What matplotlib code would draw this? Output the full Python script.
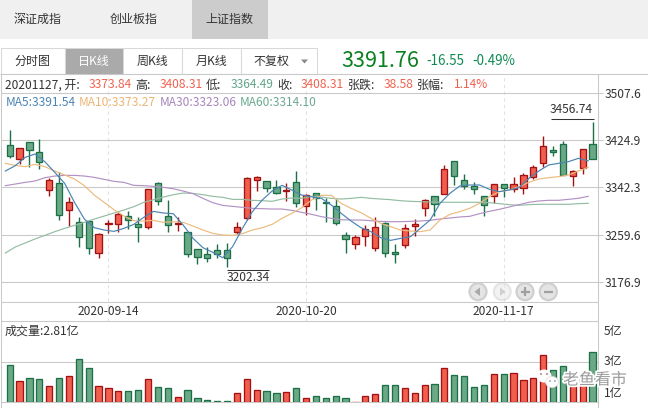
import matplotlib
matplotlib.use('Agg')
import matplotlib.pyplot as plt
import matplotlib.patheffects as pe
from matplotlib.patches import Rectangle, Circle, Ellipse, Polygon
import numpy as np

plt.rcParams['font.family'] = ['Noto Sans CJK SC', 'DejaVu Sans']

# ---- data ----
opens = [3416.1, 3391.5, 3421.3, 3403.8, 3337.2, 3349.5, 3302.2, 3281.2, 3282.9, 3226.8,
         3277.6, 3277.6, 3292.8, 3277.6, 3272.4, 3349.5, 3291.7, 3278.8, 3263.6, 3233.8,
         3225.1, 3232.1, 3232.1, 3263.6, 3288.2, 3354.7, 3353.0, 3342.5, 3335.5, 3351.2,
         3309.2, 3332.0, 3316.2, 3309.2, 3258.4, 3242.6, 3256.6, 3235.6, 3279.4, 3228.6,
         3240.9, 3274.1, 3305.7, 3326.8, 3330.3, 3388.1, 3354.8, 3344.3, 3326.8, 3326.8,
         3347.8, 3339.0, 3340.8, 3360.0, 3384.6, 3407.4, 3417.9, 3361.8, 3375.8, 3417.9]
closes = [3396.8, 3410.8, 3407.3, 3386.3, 3354.7, 3293.4, 3316.2, 3254.9, 3235.6, 3260.1,
          3280.0, 3295.2, 3284.7, 3272.4, 3339.0, 3318.0, 3275.9, 3280.6, 3225.1, 3219.8,
          3218.1, 3225.1, 3218.1, 3272.4, 3358.2, 3360.0, 3340.7, 3332.0, 3337.2, 3314.4,
          3328.5, 3323.2, 3314.4, 3279.4, 3251.4, 3254.9, 3268.9, 3272.4, 3226.8, 3225.1,
          3270.6, 3277.6, 3319.7, 3312.8, 3374.1, 3361.8, 3344.3, 3339.0, 3311.0, 3347.8,
          3340.8, 3347.8, 3363.6, 3377.6, 3414.4, 3403.9, 3363.6, 3370.6, 3409.1, 3391.76]
highs = [3442.9, 3410.8, 3421.3, 3427.2, 3358.2, 3368.8, 3325.0, 3289.9, 3284.7, 3261.9,
         3284.7, 3299.8, 3301.6, 3289.9, 3339.0, 3351.2, 3319.7, 3289.9, 3263.6, 3233.8,
         3237.4, 3242.6, 3244.4, 3281.2, 3360.0, 3361.7, 3353.0, 3354.7, 3349.5, 3370.5,
         3330.2, 3332.0, 3323.2, 3323.2, 3264.8, 3258.4, 3275.9, 3289.9, 3281.2, 3242.6,
         3277.6, 3286.4, 3321.4, 3326.8, 3381.1, 3388.1, 3365.3, 3351.3, 3326.8, 3347.8,
         3347.8, 3360.0, 3367.1, 3381.1, 3431.9, 3414.4, 3423.1, 3372.3, 3409.1, 3456.74]
lows = [3394.4, 3382.8, 3377.5, 3374.0, 3327.9, 3285.8, 3275.3, 3238.5, 3226.3, 3219.2,
        3261.9, 3263.6, 3270.1, 3247.3, 3268.9, 3312.1, 3264.8, 3265.4, 3221.0, 3207.6,
        3211.1, 3219.2, 3202.34, 3260.1, 3285.2, 3335.5, 3333.7, 3330.2, 3319.1, 3307.4,
        3293.4, 3303.3, 3281.2, 3275.9, 3226.8, 3235.0, 3239.1, 3230.4, 3219.8, 3209.3,
        3236.8, 3256.6, 3291.7, 3291.7, 3330.3, 3346.0, 3339.0, 3330.3, 3291.7, 3314.5,
        3325.0, 3333.8, 3330.3, 3356.5, 3377.6, 3396.8, 3363.6, 3344.3, 3365.3, 3391.6]
ma5 = [3371.1, 3380.4, 3395.0, 3400.9, 3387.4, 3368.8, 3349.5, 3316.2, 3287.0, 3271.8,
       3267.7, 3265.4, 3270.6, 3277.6, 3289.9, 3300.4, 3297.5, 3296.3, 3276.5, 3253.1,
       3236.8, 3228.6, 3219.2, 3238.5, 3270.6, 3299.8, 3320.3, 3336.0, 3346.0, 3337.8,
       3329.0, 3326.1, 3323.2, 3311.5, 3296.9, 3283.5, 3271.8, 3264.8, 3254.3, 3249.6,
       3253.1, 3256.0, 3270.6, 3285.3, 3314.5, 3332.0, 3344.9, 3346.6, 3346.6, 3339.0,
       3335.0, 3337.9, 3342.0, 3358.3, 3371.2, 3381.7, 3384.6, 3387.5, 3393.3, 3389.0]
ma10 = [3384.5, 3381.0, 3378.7, 3382.8, 3378.7, 3371.1, 3364.1, 3357.1, 3345.4, 3329.0,
        3316.2, 3303.3, 3292.2, 3284.1, 3283.5, 3284.7, 3281.2, 3282.3, 3281.2, 3274.7,
        3267.7, 3261.9, 3259.0, 3258.4, 3261.3, 3267.7, 3271.8, 3277.6, 3288.2, 3296.9,
        3306.8, 3320.3, 3328.5, 3328.5, 3314.4, 3305.7, 3298.1, 3288.2, 3279.4, 3273.6,
        3267.7, 3266.0, 3264.8, 3267.8, 3285.3, 3295.2, 3299.9, 3305.7, 3314.5, 3326.2,
        3335.0, 3337.9, 3343.7, 3351.3, 3357.1, 3359.5, 3361.2, 3364.1, 3371.2, 3377.6]
ma30 = [3345.4, 3348.3, 3351.2, 3353.6, 3359.4, 3362.3, 3363.5, 3363.5, 3362.3, 3360.0,
        3356.5, 3353.0, 3351.2, 3346.0, 3345.4, 3344.2, 3342.5, 3340.1, 3336.0, 3331.4,
        3323.2, 3315.6, 3310.9, 3309.2, 3307.4, 3305.7, 3305.1, 3304.5, 3304.5, 3302.2,
        3298.7, 3295.2, 3291.1, 3288.2, 3285.8, 3285.2, 3285.2, 3284.1, 3282.9, 3282.3,
        3282.3, 3282.9, 3283.5, 3284.7, 3287.1, 3288.8, 3290.6, 3291.7, 3296.4, 3300.5,
        3304.0, 3308.1, 3312.2, 3316.3, 3318.6, 3319.8, 3319.8, 3321.5, 3323.3, 3326.8]
ma60 = [3227.4, 3237.9, 3245.0, 3252.0, 3258.4, 3264.8, 3270.6, 3275.9, 3281.2, 3287.0,
        3292.2, 3297.5, 3302.8, 3308.6, 3316.2, 3320.9, 3325.5, 3329.6, 3332.5, 3331.9,
        3329.6, 3326.7, 3325.0, 3321.4, 3321.4, 3319.7, 3319.1, 3318.0, 3322.0, 3323.8,
        3323.2, 3326.7, 3325.5, 3323.2, 3322.0, 3323.2, 3325.0, 3323.2, 3322.0, 3320.9,
        3319.1, 3318.0, 3317.4, 3316.8, 3316.3, 3316.3, 3316.3, 3316.3, 3316.3, 3315.7,
        3313.9, 3312.2, 3311.0, 3312.2, 3312.8, 3312.8, 3312.8, 3312.8, 3313.9, 3314.5]
volumes = [2.74, 1.56, 1.78, 1.70, 1.19, 1.78, 1.93, 3.19, 2.52, 1.19,
           1.04, 0.81, 0.81, 0.89, 1.70, 1.11, 1.04, 0.37, 0.89, 0.30,
           0.15, 0.07, 0.07, 0.67, 1.70, 0.89, 0.81, 0.67, 0.74, 1.04,
           0.30, 0.44, 0.30, 0.44, 0.30, 0.03, 0.44, 0.59, 1.26, 1.26,
           1.04, 0.67, 1.26, 1.33, 2.52, 2.00, 1.93, 1.11, 1.26, 2.07,
           2.07, 2.15, 1.63, 1.78, 3.48, 2.37, 2.67, 2.07, 2.07, 3.70]
price_ticks = [3507.6, 3424.9, 3342.3, 3259.6, 3176.9]
date_idx = [10, 30, 50]
date_labels = ['2020-09-14', '2020-10-20', '2020-11-17']
vol_ticks = [1, 3, 5]

RED_F, RED_E = '#f05f4e', '#a31212'
GRN_F, GRN_E = '#6ba886', '#1c7048'
GRID = '#c9c9c9'
DARK = '#333333'
FS = 8.64  # 12px
GW = 0.75

W, H = 648, 408
fig = plt.figure(figsize=(W / 100, H / 100), dpi=100, facecolor='white')


def box(top, bottom, left=1, right=598):
    return [left / W, 1 - bottom / H, (right - left) / W, (bottom - top) / H]


# ---- K line panel ----
ax = fig.add_axes(box(74, 321.3))
x = np.arange(len(opens))
op, cl = np.array(opens), np.array(closes)
up = cl >= op
face = [RED_F if u else GRN_F for u in up]
edge = [RED_E if u else GRN_E for u in up]
ax.vlines(x, lows, highs, colors=edge, lw=1.0, zorder=3)
ax.bar(x, np.abs(cl - op), bottom=np.minimum(op, cl), width=0.63, color=face,
       edgecolor=edge, linewidth=0.95, zorder=4)
# lines sit a bit left of the candles in the original
for vals, c in [(ma60, '#93bda3'), (ma30, '#b391c4'), (ma10, '#ecbb7e'), (ma5, '#4a84b3')]:
    ax.plot(x - 0.44, vals, color=c, lw=0.85, zorder=5)
ax.set_xlim(-0.88, 59.55)
ax.set_ylim(3107.8, 3541.1)
ax.yaxis.tick_right()
ax.set_yticks(price_ticks)
ax.set_yticklabels([f'{t:.1f}' for t in price_ticks], fontsize=FS, color=DARK)
ax.tick_params(axis='y', length=3.5, width=GW, color=GRID, pad=1)
ax.set_xticks(date_idx)
ax.set_xticklabels(date_labels, fontsize=FS, color=DARK)
ax.tick_params(axis='x', length=0, pad=-11.5)
ax.grid(axis='y', color=GRID, lw=GW, zorder=1)
ax.grid(axis='x', color='#e2e2e2', lw=0.8, ls=(0, (3, 3)), zorder=1)
ax.set_axisbelow(True)
for s in ax.spines.values():
    s.set_visible(False)

# high / low marks
i_hi, i_lo = int(np.argmax(highs)), int(np.argmin(lows))
ax.text(i_hi + 0.05, max(highs) + 10.5, f'{max(highs):.2f}', ha='right', va='bottom',
        fontsize=FS, color=DARK, zorder=6)
ax.text(i_lo - 0.05, min(lows) - 6, f'{min(lows):.2f}', ha='left', va='top',
        fontsize=FS, color=DARK, zorder=6)

# ---- volume panel ----
ax2 = fig.add_axes(box(321.3, 402.3))
ax2.bar(x, volumes, width=0.63, color=face, edgecolor=edge, linewidth=0.95, zorder=3)
ax2.set_xlim(-0.88, 59.55)
ax2.set_ylim(0, 6)
ax2.set_xticks([])
ax2.set_yticks([])
ax2.axhline(3, color=GRID, lw=GW, zorder=1)
ax2.patch.set_alpha(0)
for s in ax2.spines.values():
    s.set_visible(False)

# ---- page chrome in pixel coordinates ----
ui = fig.add_axes([0, 0, 1, 1], zorder=10)
ui.set_xlim(0, W)
ui.set_ylim(H, 0)
ui.axis('off')
ui.patch.set_alpha(0)

ui.add_patch(Rectangle((0, 0), W, 39, fc='#f0f0f0', ec='none'))
ui.add_patch(Rectangle((192, 0), 76, 39, fc='#cccccc', ec='none'))
for tx, s in [(38, '深证成指'), (133.5, '创业板指'), (229, '上证指数')]:
    ui.text(tx, 19.5, s, ha='center', va='center', fontsize=FS, color='#333333')

btn_edges = [0.5, 65, 123, 182, 241, 317]
btn_names = ['分时图', '日K线', '周K线', '月K线', '不复权']
for j, name in enumerate(btn_names):
    active = j == 1
    ui.add_patch(Rectangle((btn_edges[j], 48), btn_edges[j + 1] - btn_edges[j], 25.5,
                           fc='#aaaaaa' if active else 'white', ec='#d8d8d8', lw=GW))
    cx = (btn_edges[j] + btn_edges[j + 1]) / 2 - (8 if j == 4 else 0)
    ui.text(cx, 61.5, name, ha='center', va='center', fontsize=FS,
            color='white' if active else '#333333')
ui.add_patch(Polygon([[301, 59.5], [308, 59.5], [304.5, 63.5]], fc='#888888', ec='none'))

ui.text(341.5, 61, '3391.76', ha='left', va='center', fontsize=15.5, color='#0b8020')
ui.text(426, 61, '-16.55', ha='left', va='center', fontsize=FS + 1, color='#0e8a55')
ui.text(472, 61, '-0.49%', ha='left', va='center', fontsize=FS + 1, color='#0e8a55')

ui.hlines(74, 0, W, color=GRID, lw=GW)
ui.vlines(1, 74, H, color=GRID, lw=GW)
ui.vlines(598, 74, H, color=GRID, lw=GW)
ui.hlines([302.3, 321.3], 1, 598, color=GRID, lw=GW)
ui.hlines(402.3, 1, 598, color=GRID, lw=GW)

row = [(5.4, '20201127, 开:', '#333333'), (89, '3373.84', '#f0614f'), (135, '高:', '#333333'),
       (160, '3408.31', '#f0614f'), (206, '低:', '#333333'), (230.6, '3364.49', '#5fa588'),
       (277, '收:', '#333333'), (301, '3408.31', '#f0614f'), (348, '张跌:', '#333333'),
       (383.5, '38.58', '#f0614f'), (417, '张幅:', '#333333'), (454, '1.14%', '#f0614f')]
for tx, s, c in row:
    ui.text(tx, 85, s, ha='left', va='center', fontsize=FS, color=c)
ma_row = [(5.4, 'MA5:3391.54', '#4a84b3'), (79, 'MA10:3373.27', '#ecb574'),
          (159.5, 'MA30:3323.06', '#a585bb'), (240, 'MA60:3314.10', '#6ba890')]
for tx, s, c in ma_row:
    ui.text(tx, 103, s, ha='left', va='center', fontsize=FS, color=c)

ui.hlines(119.3, 551, 593.5, color='#333333', lw=GW)
ui.hlines(270, 226.5, 269, color='#333333', lw=GW)

ui.text(5, 331, '成交量:2.81亿', ha='left', va='center', fontsize=FS, color='#333333')
for v, ty in zip(vol_ticks, [393, 362, 332]):
    ui.text(603.7, ty, f'{v}亿', ha='left', va='center', fontsize=FS, color=DARK)

# zoom / pan buttons
for j, cx in enumerate([478, 502.3, 525, 548.3]):
    a = 0.45 if j == 1 else 1
    ui.add_patch(Circle((cx, 291.7), 8.5, fc='#e4e4e4', ec='#cfcfcf', lw=1.6, alpha=a))
ui.add_patch(Polygon([[474.5, 291.7], [480, 287.5], [480, 296]], fc='#a8a8a8', ec='none'))
ui.add_patch(Polygon([[505.5, 291.7], [500, 287.5], [500, 296]], fc='#a8a8a8', ec='none', alpha=0.45))
ui.hlines(291.7, 520.5, 529.5, color='#a0a0a0', lw=1.6)
ui.vlines(525, 287.2, 296.2, color='#a0a0a0', lw=1.6)
ui.hlines(291.7, 544, 553, color='#a0a0a0', lw=1.6)

# watermark
ui.add_patch(Ellipse((544, 376), 15, 13, fc='white', ec='none'))
ui.add_patch(Ellipse((552, 382), 13, 11, fc='white', ec='#dddddd', lw=0.5))
ui.add_patch(Circle((541, 374), 1.1, fc='#b89a90', ec='none'))
ui.add_patch(Circle((547, 374), 1.1, fc='#b89a90', ec='none'))
ui.add_patch(Circle((550, 381), 0.9, fc='#999999', ec='none'))
ui.add_patch(Circle((555, 381), 0.9, fc='#999999', ec='none'))
ui.text(595, 380, '老鱼看市', ha='center', va='center', fontsize=11.5, color='#9a9a9a',
        path_effects=[pe.withStroke(linewidth=2.4, foreground='white')])

fig.savefig('out.png', dpi=100)
